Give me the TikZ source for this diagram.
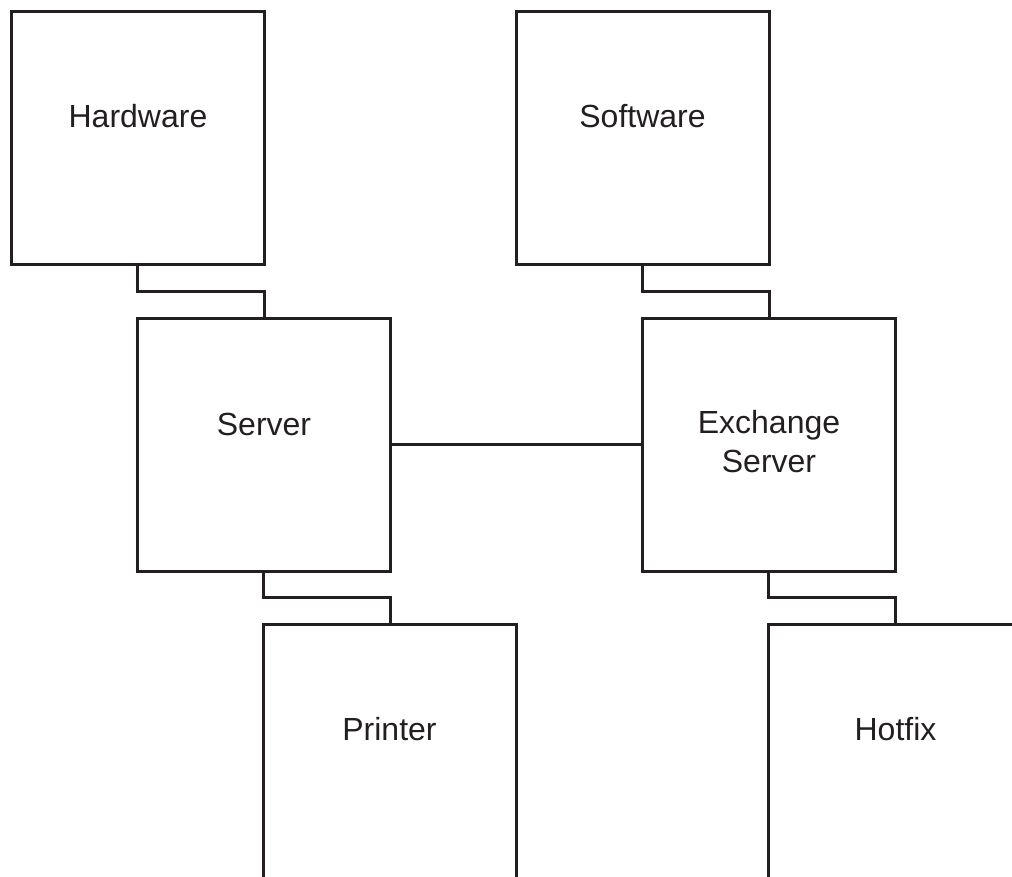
\documentclass[tikz,border=0pt]{standalone}
\usepackage{fontspec}
\setmainfont{Liberation Sans}
\usetikzlibrary{positioning,calc}
\definecolor{ink}{HTML}{231F20}

\begin{document}
\begin{tikzpicture}[x=1pt,y=-1pt,
    box/.style={draw=ink,line width=3pt,rectangle,minimum width=253pt,minimum height=253pt,anchor=north west,inner sep=0pt,outer sep=0pt},
    tall/.style={box,minimum height=300pt},
    lbl/.style={text=ink,font=\fontsize{32}{39}\selectfont,inner sep=0pt,align=center},
    link/.style={draw=ink,line width=3pt}]
  \useasboundingbox (0,0) rectangle (1012,876);
  \clip (0,0) rectangle (1012,876);
  \node[box] (hw) at (11.5,11) {};
  \node[box] (sw) at (516,11) {};
  \node[box] (srv) at (137.5,318) {};
  \node[box] (ex) at (642.5,318) {};
  \node[tall] (pr) at (263,624) {};
  \node[tall] (hf) at (768.5,624) {};
  \node[lbl,anchor=base] (hwt) at ([yshift=-116pt]hw.north) {Hardware};
  \node[lbl,anchor=base] (swt) at ([yshift=-116pt]sw.north) {Software};
  \node[lbl,anchor=base] (srvt) at ([yshift=-117pt]srv.north) {Server};
  \node[lbl] (ext) at ([yshift=3pt]ex.center) {Exchange\\Server};
  \node[lbl,anchor=base] (prt) at ([yshift=-116pt]pr.north) {Printer};
  \node[lbl,anchor=base] (hft) at ([yshift=-116pt]hf.north -| ex.south east) {Hotfix};
  % links
  \draw[link] (srv.north west |- hw.south) -- ++(0,27) -| (hw.south east |- srv.north);
  \draw[link] (ex.north west |- sw.south) -- ++(0,27) -| (sw.south east |- ex.north);
  \draw[link] (srv.east) -- (ex.west);
  \draw[link] (pr.north west |- srv.south) -- ++(0,26) -| (srv.south east |- pr.north);
  \draw[link] (hf.north west |- ex.south) -- ++(0,26) -| (ex.south east |- hf.north);
\end{tikzpicture}
\end{document}
